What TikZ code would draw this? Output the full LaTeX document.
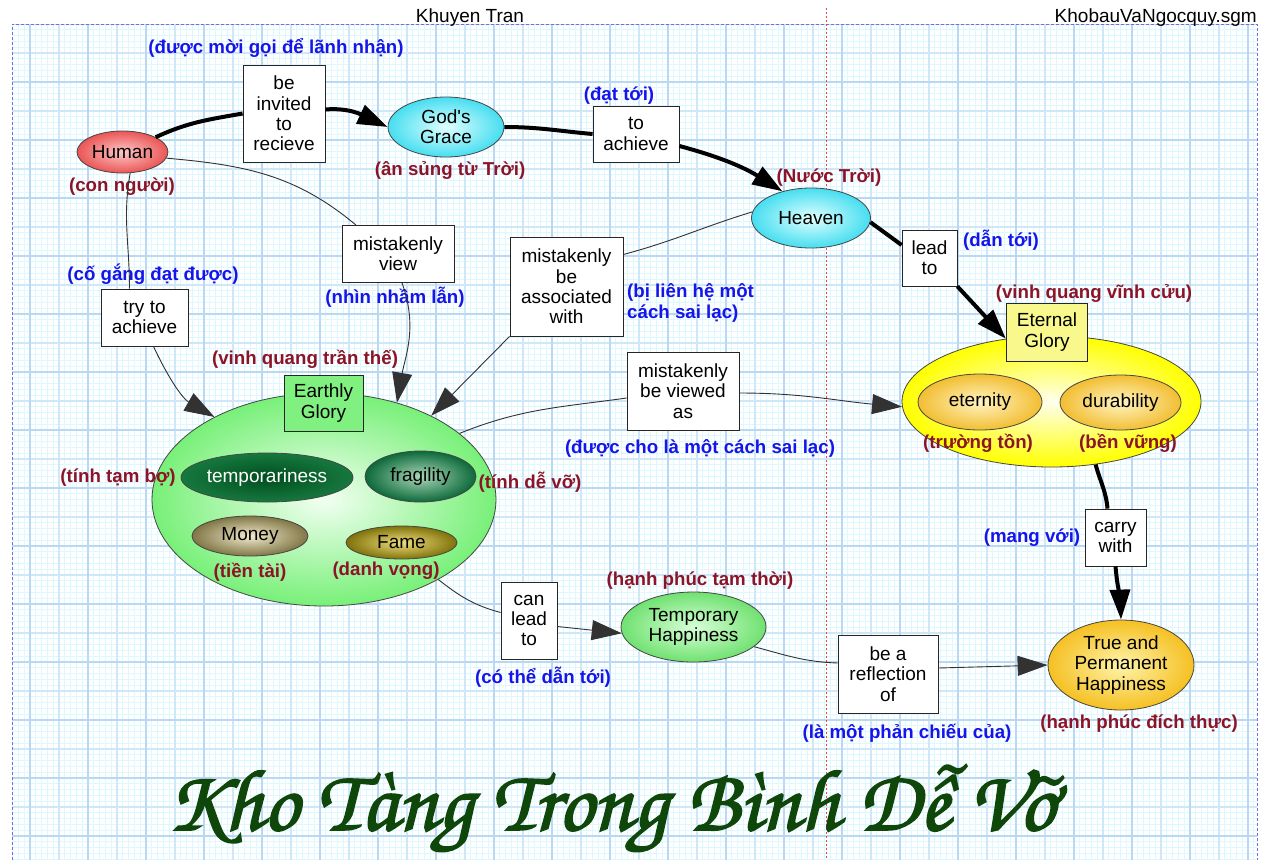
\documentclass[tikz,border=0pt]{standalone}
\usepackage{fontspec}
\usepackage{graphicx}
\setmainfont{Liberation Sans}
\newfontfamily\titlefont[FakeBold=2]{texgyrechorus-mediumitalic.otf}
\usetikzlibrary{arrows.meta,shapes.geometric}
\definecolor{lblblue}{RGB}{20,20,235}
\definecolor{lblred}{RGB}{140,20,40}
\definecolor{titlegreen}{RGB}{15,70,10}
\definecolor{minorgrid}{RGB}{222,248,255}
\definecolor{midgrid}{RGB}{206,232,250}
\definecolor{majgrid}{RGB}{184,216,244}
\definecolor{borderblue}{RGB}{110,110,230}
\definecolor{dotred}{RGB}{230,70,70}
\definecolor{edgegray}{RGB}{70,70,70}
\definecolor{linegray}{RGB}{50,50,50}
\definecolor{humanin}{RGB}{252,200,200}
\definecolor{humanout}{RGB}{235,85,85}
\definecolor{cyanin}{RGB}{225,255,255}
\definecolor{cyanout}{RGB}{70,222,240}
\definecolor{egin}{RGB}{242,255,242}
\definecolor{egout}{RGB}{120,240,120}
\definecolor{egbox}{RGB}{128,240,128}
\definecolor{tempin}{RGB}{0,78,30}
\definecolor{tempout}{RGB}{22,120,62}
\definecolor{fragin}{RGB}{170,215,185}
\definecolor{fragout}{RGB}{12,105,58}
\definecolor{moneyin}{RGB}{242,235,205}
\definecolor{moneyout}{RGB}{128,118,70}
\definecolor{famein}{RGB}{238,222,125}
\definecolor{fameout}{RGB}{128,114,10}
\definecolor{yelin}{RGB}{255,255,238}
\definecolor{yelout}{RGB}{255,255,0}
\definecolor{orin}{RGB}{255,244,195}
\definecolor{orout}{RGB}{242,190,50}
\definecolor{goldin}{RGB}{255,244,170}
\definecolor{goldout}{RGB}{245,192,35}
\definecolor{etbox}{RGB}{248,248,140}
\definecolor{thin}{RGB}{215,255,215}
\definecolor{thout}{RGB}{112,225,112}
\tikzset{
  nodefont/.style={font=\fontsize{19}{20.3}\selectfont},
  ell/.style={ellipse, draw=edgegray, line width=0.8pt, inner sep=0pt, align=center, nodefont},
  boxn/.style={rectangle, draw=black!85, line width=0.8pt, fill=white, inner sep=0pt, align=center, nodefont},
  lblb/.style={text=lblblue, font=\fontsize{18.7}{21}\selectfont\bfseries, inner sep=0pt},
  lblr/.style={text=lblred, font=\fontsize{18.7}{21}\selectfont\bfseries, inner sep=0pt},
  thickc/.style={line width=4pt, draw=black},
  thinc/.style={line width=0.9pt, draw=linegray},
  tip/.style={-{Triangle[length=30pt,width=20pt]}}
}
\begin{document}
\begin{tikzpicture}[x=1pt,y=1pt]
\useasboundingbox (0,0) rectangle (1265,-860);
\fill[white] (0,0) rectangle (1265,-860);
% grid
\begin{scope}
\clip (12,-24) rectangle (1257,-860);
\begin{scope}[shift={(30,-24)}]
\draw[minorgrid, line width=1pt, step=5.8pt] (-18,0) grid (1227,-836);
\draw[midgrid, line width=1.2pt, step=29pt] (-18,0) grid (1227,-836);
\draw[majgrid, line width=1.4pt, step=58pt] (-18,0) grid (1227,-836);
\end{scope}
\end{scope}
\draw[borderblue, line width=0.8pt, dash pattern=on 3pt off 2pt] (12,-860) -- (12,-24) -- (1257,-24) -- (1257,-860);
\draw[dotred, line width=0.9pt, dash pattern=on 2pt off 2pt] (826,-8) -- (826,-860);
% header
\node[anchor=base, font=\fontsize{19}{21}\selectfont, inner sep=0pt] (hdr1) at (470,-22) {Khuyen Tran};
\node[anchor=base east, font=\fontsize{19}{21}\selectfont, inner sep=0pt] (hdr2) at (1257,-22) {KhobauVaNgocquy.sgm};
% concepts
\node[ell, inner color=humanin, outer color=humanout, minimum width=91pt, minimum height=42pt] (human) at (122.5,-152) {Human};
\node[ell, inner color=cyanin, outer color=cyanout, minimum width=116pt, minimum height=60pt] (grace) at (446,-127) {God\textquotesingle s\\Grace};
\node[ell, inner color=cyanin, outer color=cyanout, minimum width=119pt, minimum height=60pt] (heaven) at (811,-218) {Heaven};
\node[ell, inner color=egin, outer color=egout, minimum width=344pt, minimum height=213pt] (earthly) at (324,-499.5) {};
\node[boxn, fill=egbox, minimum width=79pt, minimum height=56pt] (earthlybox) at (323.5,-403) {Earthly\\Glory};
\node[ell, inner color=tempin, outer color=tempout, text=white, minimum width=172pt, minimum height=49pt] (temporariness) at (267,-477.5) {temporariness};
\node[ell, inner color=fragin, outer color=fragout, minimum width=111pt, minimum height=51pt] (fragility) at (420.5,-476.5) {fragility};
\node[ell, inner color=moneyin, outer color=moneyout, minimum width=116pt, minimum height=40pt] (money) at (250,-536) {Money};
\node[ell, inner color=famein, outer color=fameout, minimum width=111pt, minimum height=33pt] (fame) at (401.5,-542.5) {Fame};
\node[ell, inner color=yelin, outer color=yelout, minimum width=299pt, minimum height=131pt] (eternalE) at (1051.5,-401.5) {};
\node[boxn, fill=etbox, minimum width=81pt, minimum height=58pt] (eternal) at (1047,-332) {Eternal\\Glory};
\node[ell, inner color=orin, outer color=orout, minimum width=124pt, minimum height=56pt] (eternity) at (980,-402) {eternity};
\node[ell, inner color=orin, outer color=orout, minimum width=121pt, minimum height=55pt] (durability) at (1120.5,-402.5) {durability};
\node[ell, inner color=goldin, outer color=goldout, minimum width=146pt, minimum height=90pt] (truehappy) at (1121,-665) {True and\\Permanent\\Happiness};
\node[ell, inner color=thin, outer color=thout, minimum width=145pt, minimum height=70pt] (temphappy) at (693.5,-627) {Temporary\\Happiness};
% linking phrases
\node[boxn, minimum width=82pt, minimum height=97pt] (invited) at (284,-113.5) {be\\invited\\to\\recieve};
\node[boxn, minimum width=86pt, minimum height=56pt] (achieve) at (636,-134) {to\\achieve};
\node[boxn, minimum width=55pt, minimum height=56pt] (leadto) at (929.5,-258) {lead\\to};
\node[boxn, minimum width=61pt, minimum height=57pt] (carry) at (1115.5,-537.5) {carry\\with};
\node[boxn, minimum width=100pt, minimum height=78pt] (reflect) at (888,-674) {be a\\reflection\\of};
\node[boxn, minimum width=56pt, minimum height=77pt] (canlead) at (529,-620.5) {can\\lead\\to};
\node[boxn, minimum width=87pt, minimum height=57pt] (tryach) at (144.5,-317.5) {try to\\achieve};
\node[boxn, minimum width=112pt, minimum height=57pt] (misview) at (398,-254) {mistakenly\\view};
\node[boxn, minimum width=113pt, minimum height=99pt] (assoc) at (566.5,-286.5) {mistakenly\\be\\associated\\with};
\node[boxn, minimum width=112pt, minimum height=78pt] (viewed) at (683,-391) {mistakenly\\be viewed\\as};
% labels
\node[lblb] (l1) at (276,-48) {(được mời gọi để lãnh nhận)};
\node[lblr] (l2) at (122,-187) {(con người)};
\node[lblr] (l3) at (450,-170) {(ân sủng từ Trời)};
\node[lblb] (l4) at (619,-96) {(đạt tới)};
\node[lblr] (l5) at (829,-178) {(Nước Trời)};
\node[lblb] (l6) at (1001,-240) {(dẫn tới)};
\node[lblr] (l7) at (1094,-293) {(vinh quang vĩnh cửu)};
\node[lblb] (l8) at (153,-274) {(cố gắng đạt được)};
\node[lblb] (l9) at (395,-297) {(nhìn nhầm lẫn)};
\node[lblb, anchor=west, align=left, font=\fontsize{18.7}{21}\selectfont\bfseries] (l10) at (627,-302.5) {(bị liên hệ một\\cách sai lạc)};
\node[lblr] (l11) at (305,-359) {(vinh quang trần thế)};
\node[lblb] (l12) at (700,-448) {(được cho là một cách sai lạc)};
\node[lblr] (l13) at (118,-478) {(tính tạm bợ)};
\node[lblr] (l14) at (530,-482) {(tính dễ vỡ)};
\node[lblr] (l15) at (250,-572) {(tiền tài)};
\node[lblr] (l16) at (386,-571) {(danh vọng)};
\node[lblr] (l17) at (978,-443) {(trường tồn)};
\node[lblr] (l18) at (1128,-443) {(bền vững)};
\node[lblb] (l19) at (1032,-538) {(mang với)};
\node[lblr] (l20) at (700,-581) {(hạnh phúc tạm thời)};
\node[lblb] (l21) at (543,-677) {(có thể dẫn tới)};
\node[lblb] (l22) at (907,-733) {(là một phản chiếu của)};
\node[lblr] (l23) at (1139,-724) {(hạnh phúc đích thực)};
% thick connectors
\draw[thickc] (human.24) to[out=25,in=190] (invited.west);
\draw[thickc, tip] ([yshift=4pt]invited.east) to[out=5,in=155] (grace.west);
\draw[thickc] (grace.east) to[out=0,in=175] (achieve.west);
\draw[thickc, tip] ([yshift=-12pt]achieve.east) to[out=-15,in=148] (heaven.137);
\draw[thickc] (heaven.-4) -- ([yshift=13pt]leadto.west);
\draw[thickc, tip] (leadto.south east) -- (eternalE.126);
\draw[thickc] (eternalE.-55) to[out=-75,in=95] ([xshift=-8pt]carry.north);
\draw[thickc, tip] (carry.south) to[out=-85,in=92] (truehappy.north);
% thin connectors
\draw[thinc] (human.-70) to[out=-100,in=90] ([xshift=-15pt]tryach.north);
\draw[thinc, tip] ([xshift=9pt]tryach.south) to[out=-65,in=150] (earthly.143);
\draw[thinc] (human.-8) to[out=-5,in=140] ([xshift=-42pt]misview.north);
\draw[thinc, tip] ([xshift=4pt]misview.south) to[out=-70,in=80] (earthly.53);
\draw[thinc] (heaven.174) to[out=197,in=15] ([yshift=32pt]assoc.east);
\draw[thinc, tip] (assoc.south west) -- (earthly.38);
\draw[thinc] (earthly.26) to[out=22,in=188] ([yshift=-7pt]viewed.west);
\draw[thinc, tip] ([yshift=-2pt]viewed.east) to[out=0,in=175] (eternalE.182);
\draw[thinc] (earthly.-35) to[out=-38,in=165] ([yshift=8pt]canlead.west);
\draw[thinc, tip] ([yshift=-6pt]canlead.east) -- (temphappy.185);
\draw[thinc] (temphappy.-18) to[out=-15,in=178] ([yshift=11pt]reflect.west);
\draw[thinc, tip] ([yshift=6pt]reflect.east) -- (truehappy.west);
% title
\node[anchor=base, text=titlegreen, inner sep=0pt] (title) at (612,-830) {\resizebox{890pt}{!}{\titlefont Kho Tàng Trong Bình Dễ Vỡ}};
\end{tikzpicture}
\end{document}
